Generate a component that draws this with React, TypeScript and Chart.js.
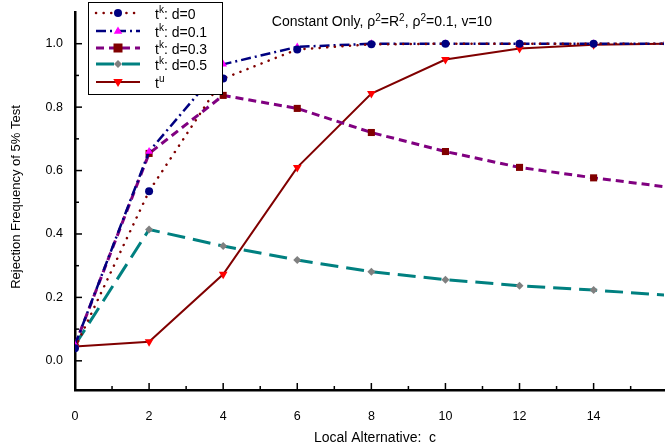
import React, { useEffect, useRef } from "react";
import { Chart, registerables } from "chart.js";

Chart.register(...registerables);

const cValues = [0, 2, 4, 6, 8, 10, 12, 14, 16];
const tkD0 = [0.04, 0.535, 0.89, 0.982, 0.998, 1.0, 1.0, 1.0, 1.0];
const tkD01 = [0.05, 0.66, 0.935, 0.99, 1.0, 1.0, 1.0, 1.0, 1.0];
const tkD03 = [0.05, 0.654, 0.837, 0.796, 0.72, 0.66, 0.61, 0.577, 0.548];
const tkD05 = [0.05, 0.414, 0.362, 0.318, 0.281, 0.256, 0.237, 0.223, 0.207];
const tu = [0.045, 0.06, 0.273, 0.61, 0.843, 0.95, 0.985, 0.997, 1.0];

const legendNames = ["d=0", "d=0.1", "d=0.3", "d=0.5", ""];
const xTitle = "Local Alternative:  c";
const yTitle = "Rejection Frequency of 5% Test";

const FONT = "'Liberation Sans', Arial, sans-serif";

function pts(ys: number[]) {
  return cValues.map((x, i) => ({ x, y: ys[i] }));
}

function drawMarker(ctx: CanvasRenderingContext2D, style: string, x: number, y: number, r: number, color: string, rot = 0) {
  ctx.save();
  ctx.fillStyle = color;
  ctx.beginPath();
  if (style === "circle") {
    ctx.arc(x, y, r, 0, Math.PI * 2);
  } else if (style === "rect") {
    ctx.rect(x - r * 0.9, y - r * 0.9, r * 1.8, r * 1.8);
  } else if (style === "rectRot") {
    ctx.moveTo(x, y - r);
    ctx.lineTo(x + r, y);
    ctx.lineTo(x, y + r);
    ctx.lineTo(x - r, y);
    ctx.closePath();
  } else if (style === "triangle") {
    const s = rot === 180 ? -1 : 1;
    ctx.moveTo(x, y - s * r);
    ctx.lineTo(x + r * 0.95, y + s * r * 0.6);
    ctx.lineTo(x - r * 0.95, y + s * r * 0.6);
    ctx.closePath();
  }
  ctx.fill();
  ctx.restore();
}

const overlayPlugin = {
  id: "overlay",
  afterDraw(chart: any) {
    const ctx: CanvasRenderingContext2D = chart.ctx;
    const xs = chart.scales.x;
    const ys = chart.scales.y;
    const area = chart.chartArea;
    ctx.save();
    // inward ticks
    ctx.strokeStyle = "#000";
    ctx.lineWidth = 1.5;
    for (let v = 1; v <= 15; v++) {
      const px = xs.getPixelForValue(v);
      const len = v % 2 === 0 ? 7 : 4;
      ctx.beginPath();
      ctx.moveTo(px, area.bottom);
      ctx.lineTo(px, area.bottom - len);
      ctx.stroke();
    }
    for (let i = 0; i <= 10; i++) {
      const v = i / 10;
      const py = ys.getPixelForValue(v);
      const len = i % 2 === 0 ? 7 : 4;
      ctx.beginPath();
      ctx.moveTo(area.left, py);
      ctx.lineTo(area.left + len, py);
      ctx.stroke();
    }

    // axis titles
    ctx.fillStyle = "#000";
    ctx.textAlign = "center";
    ctx.textBaseline = "alphabetic";
    ctx.font = `14px ${FONT}`;
    ctx.fillText(xTitle, 375, 442);
    ctx.save();
    ctx.font = `13px ${FONT}`;
    ctx.textBaseline = "middle";
    ctx.translate(16, 197);
    ctx.rotate(-Math.PI / 2);
    ctx.fillText(yTitle, 0, 0);
    ctx.restore();

    // title with superscripts
    const parts: [string, boolean][] = [
      ["Constant Only, \u03c1", false],
      ["2", true],
      ["=R", false],
      ["2", true],
      [", \u03c1", false],
      ["2", true],
      ["=0.1, v=10", false],
    ];
    const mainF = `14px ${FONT}`;
    const supF = `10px ${FONT}`;
    let total = 0;
    for (const [t, s] of parts) {
      ctx.font = s ? supF : mainF;
      total += ctx.measureText(t).width;
    }
    let tx = 382 - total / 2;
    ctx.textAlign = "left";
    ctx.textBaseline = "alphabetic";
    for (const [t, s] of parts) {
      ctx.font = s ? supF : mainF;
      ctx.fillText(t, tx, s ? 21 : 26);
      tx += ctx.measureText(t).width;
    }

    // legend
    ctx.fillStyle = "#fff";
    ctx.fillRect(88, 2, 134, 92);
    ctx.strokeStyle = "#000";
    ctx.lineWidth = 1;
    ctx.strokeRect(88.5, 2.5, 134, 92);
    const rows = [13, 31, 48, 64, 82];
    chart.data.datasets.forEach((ds: any, i: number) => {
      const y = rows[i];
      ctx.save();
      ctx.strokeStyle = ds.borderColor;
      ctx.lineWidth = ds.borderWidth;
      ctx.lineCap = ds.borderCapStyle || "butt";
      ctx.setLineDash(ds.borderDash || []);
      ctx.beginPath();
      ctx.moveTo(96, y);
      ctx.lineTo(140, y);
      ctx.stroke();
      ctx.restore();
      drawMarker(ctx, ds.pointStyle, 118, y, ds.pointRadius, ds.pointBackgroundColor, ds.pointRotation || 0);
      ctx.fillStyle = "#000";
      ctx.textAlign = "left";
      ctx.textBaseline = "alphabetic";
      ctx.font = `14px ${FONT}`;
      let lx = 155;
      ctx.fillText("t", lx, y + 6);
      lx += ctx.measureText("t").width;
      ctx.font = `10px ${FONT}`;
      const sup = i === 4 ? "u" : "k";
      ctx.fillText(sup, lx, y);
      lx += ctx.measureText(sup).width;
      if (i < 4) {
        ctx.font = `14px ${FONT}`;
        ctx.fillText(": " + legendNames[i], lx, y + 6);
      }
    });
    ctx.restore();
  },
};

export default function App() {
  const ref = useRef<HTMLCanvasElement>(null);
  useEffect(() => {
    if (!ref.current) return;
    const chart = new Chart(ref.current, {
      type: "line",
      data: {
        datasets: [
          {
            label: "tk d=0",
            data: pts(tkD0),
            borderColor: "#800000",
            borderWidth: 2.5,
            borderDash: [0.1, 7.5],
            borderCapStyle: "round",
            pointStyle: "circle",
            pointRadius: 4,
            pointBackgroundColor: "#000080",
            pointBorderWidth: 0,
          } as any,
          {
            label: "tk d=0.1",
            data: pts(tkD01),
            borderColor: "#000080",
            borderWidth: 2.5,
            borderDash: [10, 4, 2, 4],
            pointStyle: "triangle",
            pointRadius: 4.5,
            pointBackgroundColor: "#ff00ff",
            pointBorderWidth: 0,
          },
          {
            label: "tk d=0.3",
            data: pts(tkD03),
            borderColor: "#800080",
            borderWidth: 3,
            borderDash: [8, 5],
            pointStyle: "rect",
            pointRadius: 5,
            pointBackgroundColor: "#800000",
            pointBorderWidth: 0,
          },
          {
            label: "tk d=0.5",
            data: pts(tkD05),
            borderColor: "#008080",
            borderWidth: 3,
            borderDash: [18, 8],
            pointStyle: "rectRot",
            pointRadius: 4,
            pointBackgroundColor: "#808080",
            pointBorderWidth: 0,
          },
          {
            label: "tu",
            data: pts(tu),
            borderColor: "#800000",
            borderWidth: 2,
            pointStyle: "triangle",
            pointRotation: 180,
            pointRadius: 5,
            pointBackgroundColor: "#ff0000",
            pointBorderWidth: 0,
          },
        ],
      },
      options: {
        responsive: false,
        animation: false,
        devicePixelRatio: 1,
        layout: { padding: { top: 12, left: 0, right: 0, bottom: 0 } },
        plugins: { legend: { display: false }, title: { display: false }, tooltip: { enabled: false } },
        elements: { line: { tension: 0 } },
        scales: {
          x: {
            type: "linear",
            min: 0,
            max: 15.9,
            afterFit: (s: any) => {
              s.height = 58;
              s.paddingLeft = 0;
              s.paddingRight = 0;
            },
            ticks: {
              stepSize: 2,
              includeBounds: false,
              padding: 19,
              color: "#000",
              font: { family: FONT, size: 12.5 },
              maxRotation: 0,
            },
            grid: { display: true, drawOnChartArea: false, drawTicks: false },
            border: { display: true, color: "#000", width: 2.5 },
          },
          y: {
            type: "linear",
            min: -0.092,
            max: 1.1,
            afterFit: (s: any) => {
              s.width = 75;
              s.paddingTop = 0;
              s.paddingBottom = 0;
            },
            ticks: {
              stepSize: 0.2,
              includeBounds: false,
              padding: 12,
              color: "#000",
              font: { family: FONT, size: 12.5 },
              callback: (v: any) => Number(v).toFixed(1),
            },
            afterBuildTicks: (s: any) => {
              s.ticks = [0, 0.2, 0.4, 0.6, 0.8, 1.0].map((v) => ({ value: v }));
            },
            grid: { display: true, drawOnChartArea: false, drawTicks: false },
            border: { display: true, color: "#000", width: 2.5 },
          },
        },
      },
      plugins: [overlayPlugin],
    });
    return () => chart.destroy();
  }, []);
  return (
    <div style={{ position: "absolute", left: 0, top: 0, width: 669, height: 448, background: "#fff" }}>
      <canvas ref={ref} width={669} height={448} style={{ width: 669, height: 448, display: "block" }} />
    </div>
  );
}
